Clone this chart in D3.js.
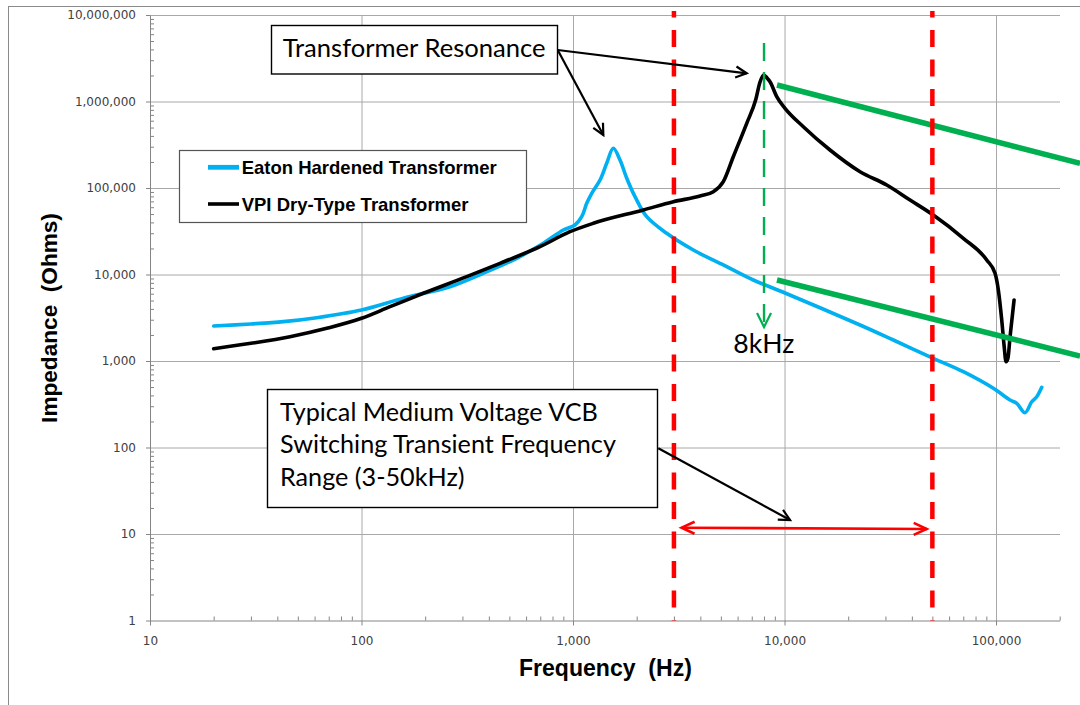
<!DOCTYPE html>
<html><head><meta charset="utf-8">
<script src="https://cdn.jsdelivr.net/npm/d3@7"></script>
<style>body{margin:0;background:#fff}svg{display:block}</style>
</head><body>
<svg id="c" width="1080" height="705"></svg>
<script>
// ---------- data ----------
const seriesNames = ["Eaton Hardened Transformer", "VPI Dry-Type Transformer"];
const eatonFreq = [20,30,42.7,61.4,100,157.6,262,376.6,541.8,723.8,899.8,1022,1099.5,1161,1226,1342,1443,1550,1668,1795,1964,2231,2773,3705,5330,7120,10055,22750,32690,50500,70050,97100,116500,125300,137100,147500,155800,164500];
const eatonZ    = [2540,2680,2850,3170,3890,5310,7230,10330,15400,22950,32700,37350,46580,66540,86850,123750,193000,287700,210700,129500,79330,46580,29950,19200,12310,8640,6110,2608,1749,1075,752,483.5,354,324,252.6,338,386.6,496.6];
const vpiFreq = [20,30,45.9,68.5,100,136.4,196,314.4,451.7,698,967.8,1247,2150,2981,3987,4607,5135,5726,6627,7301,7660,7976,8267,8540,9186,10055,12270,16410,22750,30430,39210,50500,70050,90370,98920,102540,106400,109100,111500,113900,116500,121700];
const vpiZ    = [1388,1602,1910,2388,3116,4243,6064,9433,13475,20960,31250,39080,55680,69430,80820,90630,118300,230000,559800,1040600,1680000,2025000,1869000,1694000,1136000,834500,511300,275000,154300,108300,72650,48740,26210,14710,10320,6620,2979,1531,981,1083,1910,5072];
const xTicks = [10,100,1000,10000,100000];
const yTicks = [1,10,100,1000,10000,100000,1000000,10000000];
const rangeFreqs = [3000, 50000];              // red dashed limits
const resonanceFreq = 8000;                     // green dashed marker
const resonanceMarkZ = [4.75e6, 2470];
const trendFreq = [9216, 249600];               // green solid lines
const trendUpperZ = [1551000, 192500];
const trendLowerZ = [8640, 1142];
const resArrowFrom = [846.5, 3.939e6];
const resArrowTo = [[6627, 2.118e6], [1391, 410000]];
const rangeArrowFrom = [2531, 97.9];
const rangeArrowTo = [10620, 14.52];
const spanFreq = [3260, 47010];
const spanZ = [11.83, 11.42];
const rangeLabel = ["Typical Medium Voltage VCB", "Switching Transient Frequency", "Range (3-50kHz)"];
const resLabel = "Transformer Resonance";
const markLabel = "8kHz";
const xTitle = "Frequency  (Hz)";
const yTitle = "Impedance  (Ohms)";

// ---------- chart ----------
const svg = d3.select("#c");
const x = d3.scaleLog().domain([10, 200000]).range([150, 1059.7]);
const y = d3.scaleLog().domain([1, 1e7]).range([620.5, 15]);
const fmt = d3.format(",");
const axisCol = "#858585", gridCol = "#a8a8a8", labCol = "#404040";

svg.append("rect").attr("x",8.5).attr("y",6.5).attr("width",1200).attr("height",900)
  .attr("fill","#fff").attr("stroke","#8a8a8a");

// gridlines
svg.append("g").attr("transform","translate(150,0)")
  .call(d3.axisLeft(y).tickValues(yTicks.slice(1)).tickSize(-910).tickFormat(""))
  .call(g=>{g.select(".domain").remove(); g.selectAll("line").attr("stroke",gridCol);});
svg.append("g").attr("transform","translate(0,620.5)")
  .call(d3.axisBottom(x).tickValues(xTicks.slice(1)).tickSize(-605.5).tickFormat(""))
  .call(g=>{g.select(".domain").remove(); g.selectAll("line").attr("stroke",gridCol);});

// minor ticks
const minorY = y.ticks().filter(v=>Math.abs(Math.log10(v)%1)>1e-6);
const minorX = x.ticks().filter(v=>Math.abs(Math.log10(v)%1)>1e-6);
svg.append("g").attr("transform","translate(150,0)")
  .call(d3.axisRight(y).tickValues(minorY).tickSize(4).tickFormat(""))
  .call(g=>{g.select(".domain").remove(); g.selectAll("line").attr("stroke",axisCol);});
svg.append("g").attr("transform","translate(0,620.5)")
  .call(d3.axisTop(x).tickValues(minorX).tickSize(4).tickFormat(""))
  .call(g=>{g.select(".domain").remove(); g.selectAll("line").attr("stroke",axisCol);});

// major axes
const yAx = svg.append("g").attr("transform","translate(150,0)")
  .call(d3.axisLeft(y).tickValues(yTicks).tickSize(4).tickSizeOuter(0).tickPadding(10).tickFormat(fmt));
const xAx = svg.append("g").attr("transform","translate(0,620.5)")
  .call(d3.axisBottom(x).tickValues(xTicks).tickSize(5).tickSizeOuter(0).tickPadding(11).tickFormat(fmt));
[yAx,xAx].forEach(g=>{
  g.select(".domain").attr("stroke",axisCol);
  g.selectAll("line").attr("stroke",axisCol);
  g.selectAll("text").attr("fill",labCol).style("font-family","DejaVu Sans").style("font-size","12px");
});

// fitting helper
function fit(sel, target, base){
  sel.style("font-size", base+"px");
  const w = sel.node().getComputedTextLength();
  const s = base*target/w;
  sel.style("font-size", s+"px");
  return s;
}

// axis titles
const xt = svg.append("text").attr("x",519).attr("y",676).text(xTitle)
  .style("white-space","pre").style("font-family","Liberation Sans, Arial").style("font-weight","bold").attr("fill","#000");
fit(xt,173,22);
const yt = svg.append("text").attr("transform","translate(57,318) rotate(-90)").attr("text-anchor","middle").text(yTitle)
  .style("white-space","pre").style("font-family","Liberation Sans, Arial").style("font-weight","bold").attr("fill","#000");
fit(yt,210,22);

// curves
const line = d3.line().x(d=>x(d[0])).y(d=>y(d[1]));
const eatonPts = eatonFreq.map((f,i)=>[f,eatonZ[i]]);
const vpiPts = vpiFreq.map((f,i)=>[f,vpiZ[i]]);
svg.append("path").attr("d", line.curve(d3.curveCatmullRom.alpha(0.5))(eatonPts))
  .attr("fill","none").attr("stroke","#00b0f0").attr("stroke-width",3.6).attr("stroke-linejoin","round").attr("stroke-linecap","round");
svg.append("path").attr("d", line.curve(d3.curveMonotoneX)(vpiPts))
  .attr("fill","none").attr("stroke","#000").attr("stroke-width",3.6).attr("stroke-linejoin","round").attr("stroke-linecap","round");

// green trend lines
[trendUpperZ, trendLowerZ].forEach(zs=>{
  svg.append("line").attr("x1",x(trendFreq[0])).attr("y1",y(zs[0])).attr("x2",x(trendFreq[1])).attr("y2",y(zs[1]))
    .attr("stroke","#00b050").attr("stroke-width",5.5);
});

// arrowhead helper
function vHead(x1,y1,x2,y2,len,half,col,w){
  const a = Math.atan2(y2-y1,x2-x1);
  const bx = x2-len*Math.cos(a), by = y2-len*Math.sin(a);
  const px = -Math.sin(a)*half, py = Math.cos(a)*half;
  svg.append("path").attr("d",`M${bx+px},${by+py}L${x2},${y2}L${bx-px},${by-py}`)
    .attr("fill","none").attr("stroke",col).attr("stroke-width",w).attr("stroke-linejoin","miter");
}

// green dashed resonance marker
const gx = x(resonanceFreq);
svg.append("line").attr("x1",gx).attr("x2",gx).attr("y1",y(resonanceMarkZ[0])).attr("y2",y(resonanceMarkZ[1]))
  .attr("stroke","#00b050").attr("stroke-width",2.4).attr("stroke-dasharray","18,11");
vHead(gx,y(resonanceMarkZ[0]),gx,y(resonanceMarkZ[1]),14,7,"#00b050",2.2);

// red dashed range lines
rangeFreqs.forEach(f=>{
  svg.append("line").attr("x1",x(f)).attr("x2",x(f)).attr("y1",11).attr("y2",y(1))
    .attr("stroke","#ff0000").attr("stroke-width",4.5).attr("stroke-dasharray","17,12.5").attr("stroke-dashoffset",10.5);
});

// red double arrow
const sx1=x(spanFreq[0]), sy1=y(spanZ[0]), sx2=x(spanFreq[1]), sy2=y(spanZ[1]);
svg.append("line").attr("x1",sx1).attr("y1",sy1).attr("x2",sx2).attr("y2",sy2).attr("stroke","#ff0000").attr("stroke-width",2.6);
vHead(sx1,sy1,sx2,sy2,13,6,"#ff0000",2.6);
vHead(sx2,sy2,sx1,sy1,13,6,"#ff0000",2.6);

// black arrows
resArrowTo.forEach(t=>{
  const x1=x(resArrowFrom[0]), y1=y(resArrowFrom[1]), x2=x(t[0]), y2=y(t[1]);
  svg.append("line").attr("x1",x1).attr("y1",y1).attr("x2",x2).attr("y2",y2).attr("stroke","#000").attr("stroke-width",2.2);
  vHead(x1,y1,x2,y2,11,5.5,"#000",2.2);
});
{
  const x1=x(rangeArrowFrom[0]), y1=y(rangeArrowFrom[1]), x2=x(rangeArrowTo[0]), y2=y(rangeArrowTo[1]);
  svg.append("line").attr("x1",x1).attr("y1",y1).attr("x2",x2).attr("y2",y2).attr("stroke","#000").attr("stroke-width",2.2);
  vHead(x1,y1,x2,y2,11,5.5,"#000",2.2);
}

// annotation boxes
const annFont = "Lato, 'Open Sans', sans-serif";
svg.append("rect").attr("x",271.5).attr("y",25.5).attr("width",286).attr("height",48.5)
  .attr("fill","#fff").attr("stroke","#000").attr("stroke-width",1.4);
const rt = svg.append("text").attr("x",282.7).attr("y",56.7).text(resLabel).style("font-family",annFont).attr("fill","#000");
fit(rt,263,24);

svg.append("rect").attr("x",267.5).attr("y",389.5).attr("width",390).attr("height",118)
  .attr("fill","#fff").attr("stroke","#000").attr("stroke-width",1.4);
const rl = svg.append("g");
const lineY = [420.7, 453.3, 486];
const tl = rl.selectAll("text").data(rangeLabel).join("text").attr("x",280).attr("y",(d,i)=>lineY[i])
  .text(d=>d).style("font-family",annFont).attr("fill","#000");
const sz = fit(tl.filter((d,i)=>i===1), 336, 24);
tl.style("font-size", sz+"px");

const mk = svg.append("text").attr("x",763.7).attr("y",353).attr("text-anchor","middle").text(markLabel)
  .style("font-family",annFont).attr("fill","#000");
fit(mk,61,26);

// legend
svg.append("rect").attr("x",179.5).attr("y",150.5).attr("width",347).attr("height",72)
  .attr("fill","#fff").attr("stroke","#555").attr("stroke-width",1.2);
const legCols = ["#00b0f0","#000"], legY = [167.3, 204], legW = [4.8, 3.6], legBase=[174.3, 211];
seriesNames.forEach((n,i)=>{
  svg.append("line").attr("x1",208).attr("x2",239).attr("y1",legY[i]).attr("y2",legY[i])
    .attr("stroke",legCols[i]).attr("stroke-width",legW[i]);
});
const lt = svg.selectAll(".lt").data(seriesNames).join("text").attr("class","lt")
  .attr("x",241.7).attr("y",(d,i)=>legBase[i]).text(d=>d)
  .style("font-family","Liberation Sans, Arial").style("font-weight","bold").attr("fill","#000");
const ls = fit(lt.filter((d,i)=>i===0), 255, 18);
lt.style("font-size", ls+"px");
</script>
</body></html>
